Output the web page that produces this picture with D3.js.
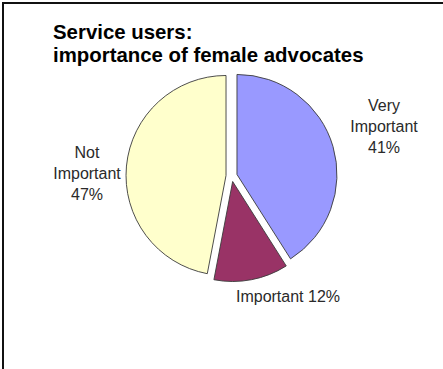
<!DOCTYPE html>
<html>
<head>
<meta charset="utf-8">
<script src="https://cdn.jsdelivr.net/npm/d3@7"></script>
<style>
  html, body { margin: 0; padding: 0; background: #fff; }
  svg { display: block; }
  text { font-family: "Liberation Sans", Arial, sans-serif; }
</style>
</head>
<body>
<svg id="chart" width="443" height="369"></svg>
<script>
// ---- data ----
const categories = ["Very Important", "Important", "Not Important"];
const values = [41, 12, 47];
const labelLines = [["Very", "Important", "41%"], ["Important  12%"], ["Not", "Important", "47%"]];
const titleLines = ["Service users:", "importance of female advocates"];

// ---- layout ----
const colors = ["#9999FF", "#993366", "#FFFFCC"];
const cx = 231.6, cy = 176, radius = 100, explode = 5.6;
const labelAnchor = [[384, 111], [288, 302], [87, 158]]; // first-line baseline centers
const lineGap = 21;

const svg = d3.select("#chart");

// frame (only left and top edges visible in the crop)
svg.append("rect")
  .attr("x", 3).attr("y", 3).attr("width", 460).attr("height", 400)
  .attr("fill", "none").attr("stroke", "#111").attr("stroke-width", 2);

// title
svg.append("g").selectAll("text").data(titleLines).join("text")
  .attr("x", 53).attr("y", (d, i) => 39 + i * 23)
  .attr("font-size", 20.4).attr("font-weight", "bold").attr("fill", "#000")
  .text(d => d);

const pie = d3.pie().sort(null).value(d => d)(values);
const arc = d3.arc().innerRadius(0).outerRadius(radius);

svg.append("g").attr("transform", `translate(${cx},${cy})`)
  .selectAll("path").data(pie).join("path")
  .attr("transform", d => {
    const a = (d.startAngle + d.endAngle) / 2;
    return `translate(${explode * Math.sin(a)},${-explode * Math.cos(a)})`;
  })
  .attr("d", arc)
  .attr("fill", (d, i) => colors[i])
  .attr("stroke", "#3a3a3a")
  .attr("stroke-width", 0.9);

// labels
const lg = svg.append("g");
labelLines.forEach((lines, i) => {
  lg.append("text")
    .attr("text-anchor", "middle")
    .attr("font-size", 16)
    .attr("fill", "#2a2a2a")
    .selectAll("tspan").data(lines).join("tspan")
    .attr("x", labelAnchor[i][0])
    .attr("y", (d, j) => labelAnchor[i][1] + j * lineGap)
    .text(d => d);
});
</script>
</body>
</html>
